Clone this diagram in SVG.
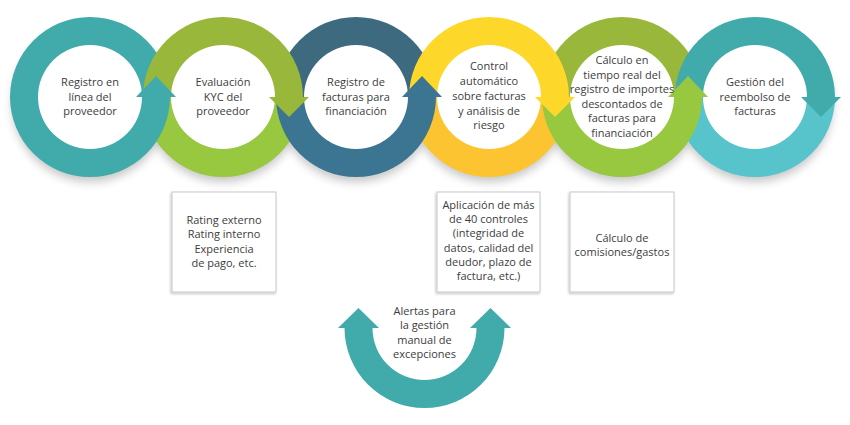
<svg xmlns="http://www.w3.org/2000/svg" width="850" height="425" viewBox="0 0 850 425">
<style>
  .t { font-family: "Open Sans", "DejaVu Sans", sans-serif; font-size: 11px; fill: #3d3d3d; text-anchor: middle; }
  .box { fill: #ffffff; stroke: #c8c8c8; stroke-width: 1; }
  .teal { fill: #41abab; }
  .teal2 { fill: #57c3cb; }
  .gT { fill: #99b83b; }
  .gB { fill: #98c740; }
  .bT { fill: #3e6a80; }
  .bB { fill: #3b7592; }
  .yT { fill: #fdd82b; }
  .yB { fill: #fbc430; }
</style>
<defs>
  <filter id="blur" x="-30%" y="-30%" width="160%" height="160%">
    <feGaussianBlur stdDeviation="5"/>
  </filter>
  <filter id="boxsh" x="-20%" y="-20%" width="140%" height="140%">
    <feDropShadow dx="-1" dy="1.5" stdDeviation="1.2" flood-color="#000" flood-opacity="0.22"/>
  </filter>
</defs>
<rect width="850" height="425" fill="#ffffff"/>

<g id="shadows" filter="url(#blur)" fill="#000" opacity="0.22">
  <circle cx="90" cy="104" r="78"/>
  <circle cx="223" cy="104" r="78"/>
  <circle cx="356" cy="104" r="78"/>
  <circle cx="489" cy="104" r="78"/>
  <circle cx="622" cy="104" r="78"/>
  <circle cx="755" cy="104" r="78"/>
</g>
<g id="discs" fill="#ffffff">
  <circle cx="90" cy="97" r="53"/>
  <circle cx="223" cy="97" r="53"/>
  <circle cx="356" cy="97" r="53"/>
  <circle cx="489" cy="97" r="53"/>
  <circle cx="622" cy="97" r="53"/>
  <circle cx="755" cy="97" r="53"/>
</g>

<g id="rings">
  <!-- B2 -->
  <path class="gB" d="M303,97 A80,80 0 0 1 143,97 L171,97 A52,52 0 0 0 275,97 Z"/>
  <!-- B4 -->
  <path class="yB" d="M569,97 A80,80 0 0 1 409,97 L437,97 A52,52 0 0 0 541,97 Z"/>
  <!-- B6 -->
  <path class="teal2" d="M835,97 A80,80 0 0 1 675,97 L703,97 A52,52 0 0 0 807,97 Z"/>
  <!-- T1 -->
  <path class="teal" d="M10,97 A80,80 0 0 1 170,97 L142,97 A52,52 0 0 0 38,97 Z"/>
  <!-- T3 -->
  <path class="bT" d="M276,97 A80,80 0 0 1 436,97 L408,97 A52,52 0 0 0 304,97 Z"/>
  <!-- T5 -->
  <path class="gT" d="M542,97 A80,80 0 0 1 702,97 L674,97 A52,52 0 0 0 570,97 Z"/>
  <!-- T6 with down arrow -->
  <path class="teal" d="M675,97 A80,80 0 0 1 835,97 L807,97 A52,52 0 0 0 703,97 Z"/>
  <polygon class="teal" points="801,97 821,117 841,97"/>
  <!-- B5 with up arrow -->
  <path class="gB" d="M702,97 A80,80 0 0 1 542,97 L570,97 A52,52 0 0 0 674,97 Z"/>
  <polygon class="gB" points="668,97 688,76 708,97"/>
  <!-- T4 with down arrow -->
  <path class="yT" d="M409,97 A80,80 0 0 1 569,97 L541,97 A52,52 0 0 0 437,97 Z"/>
  <polygon class="yT" points="535,97 555,117 575,97"/>
  <!-- B3 with up arrow -->
  <path class="bB" d="M436,97 A80,80 0 0 1 276,97 L304,97 A52,52 0 0 0 408,97 Z"/>
  <polygon class="bB" points="402,97 422,76 442,97"/>
  <!-- T2 with down arrow -->
  <path class="gT" d="M143,97 A80,80 0 0 1 303,97 L275,97 A52,52 0 0 0 171,97 Z"/>
  <polygon class="gT" points="269,97 289,117 309,97"/>
  <!-- B1 with up arrow -->
  <path class="teal" d="M170,97 A80,80 0 0 1 10,97 L38,97 A52,52 0 0 0 142,97 Z"/>
  <polygon class="teal" points="136,97 156,76 176,97"/>
</g>

<g id="node-1">
  <text class="t" x="90" y="86">Registro en</text>
  <text class="t" x="90" y="100.7">línea del</text>
  <text class="t" x="90" y="115.4">proveedor</text>
</g>
<g id="node-2">
  <text class="t" x="223" y="86">Evaluación</text>
  <text class="t" x="223" y="100.7">KYC del</text>
  <text class="t" x="223" y="115.4">proveedor</text>
</g>
<g id="node-3">
  <text class="t" x="356" y="86">Registro de</text>
  <text class="t" x="356" y="100.7">facturas para</text>
  <text class="t" x="356" y="115.4">financiación</text>
</g>
<g id="node-4">
  <text class="t" x="489" y="70.2">Control</text>
  <text class="t" x="489" y="85">automático</text>
  <text class="t" x="489" y="99.8">sobre facturas</text>
  <text class="t" x="489" y="114.6">y análisis de</text>
  <text class="t" x="489" y="129.4">riesgo</text>
</g>
<g id="node-5">
  <text class="t" x="622" y="64">Cálculo en</text>
  <text class="t" x="622" y="78.5">tiempo real del</text>
  <text class="t" x="622" y="93">registro de importes</text>
  <text class="t" x="622" y="107.5">descontados de</text>
  <text class="t" x="622" y="122">facturas para</text>
  <text class="t" x="622" y="136.5">financiación</text>
</g>
<g id="node-6">
  <text class="t" x="755" y="86">Gestión del</text>
  <text class="t" x="755" y="100.7">reembolso de</text>
  <text class="t" x="755" y="115.4">facturas</text>
</g>

<g id="box-1">
  <rect class="box" x="172" y="192" width="104" height="100" filter="url(#boxsh)"/>
  <text class="t" x="224" y="224">Rating externo</text>
  <text class="t" x="224" y="238.3">Rating interno</text>
  <text class="t" x="224" y="252.5">Experiencia</text>
  <text class="t" x="224" y="266.8">de pago, etc.</text>
</g>
<g id="box-2">
  <rect class="box" x="437" y="192" width="103" height="100" filter="url(#boxsh)"/>
  <text class="t" x="488.5" y="209">Aplicación de más</text>
  <text class="t" x="488.5" y="223.2">de 40 controles</text>
  <text class="t" x="488.5" y="237.4">(integridad de</text>
  <text class="t" x="488.5" y="251.6">datos, calidad del</text>
  <text class="t" x="488.5" y="265.8">deudor, plazo de</text>
  <text class="t" x="488.5" y="280">factura, etc.)</text>
</g>
<g id="box-3">
  <rect class="box" x="570" y="192" width="104" height="100" filter="url(#boxsh)"/>
  <text class="t" x="622" y="241.7">Cálculo de</text>
  <text class="t" x="622" y="255.7">comisiones/gastos</text>
</g>

<g id="connectors">
  <path class="teal" d="M344.5,328 A80,80 0 0 0 504.5,328 L476.5,328 A52,52 0 0 1 372.5,328 Z"/>
  <polygon class="teal" points="338,328 358.5,308 379,328"/>
  <polygon class="teal" points="470,328 490.5,308 511,328"/>
</g>
<g id="node-alerts">
  <text class="t" x="424.5" y="314.5">Alertas para</text>
  <text class="t" x="424.5" y="329">la gestión</text>
  <text class="t" x="424.5" y="343.5">manual de</text>
  <text class="t" x="424.5" y="358">excepciones</text>
</g>
</svg>
